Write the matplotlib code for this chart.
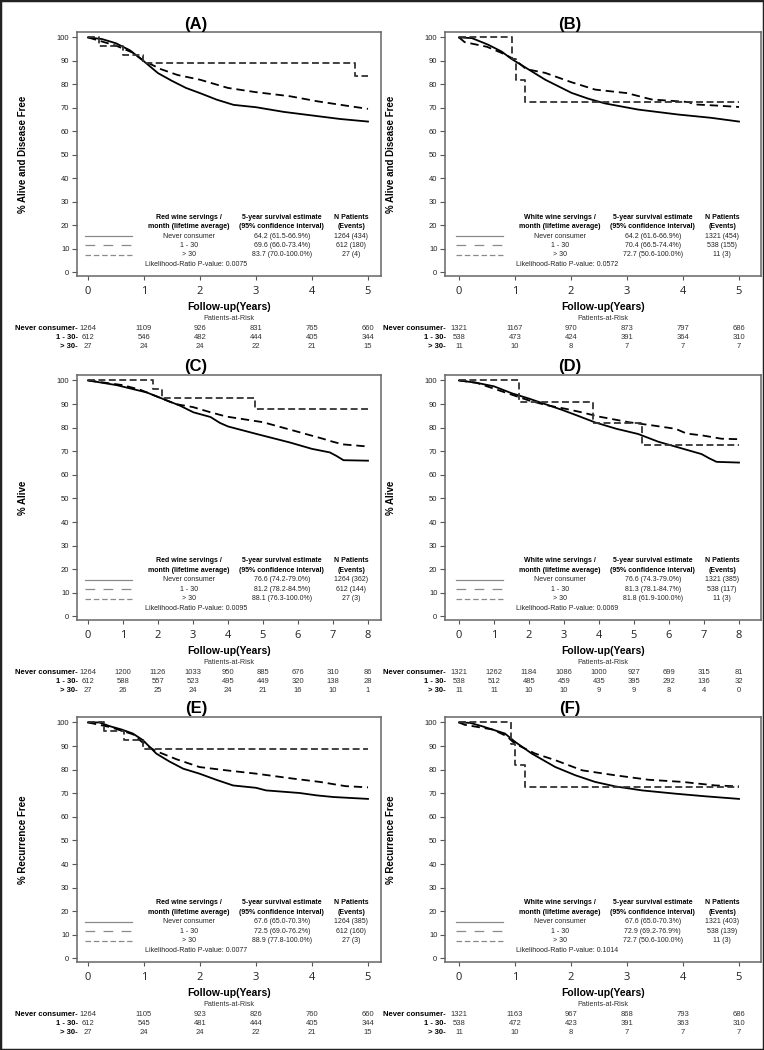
import matplotlib
matplotlib.use("Agg")
import matplotlib.pyplot as plt
import matplotlib.transforms as mtransforms
from matplotlib.patches import Rectangle

W, H = 764, 1050

plt.rcParams["font.family"] = ["Liberation Sans", "DejaVu Sans"]
plt.rcParams["lines.scale_dashes"] = False

# ---------------- data ----------------
titles = ["(A)", "(B)", "(C)", "(D)", "(E)", "(F)"]
ylabels = ["% Alive and Disease Free", "% Alive and Disease Free",
           "% Alive", "% Alive", "% Recurrence Free", "% Recurrence Free"]
wine_types = ["Red", "White", "Red", "White", "Red", "White"]
groups = ["Never consumer", "1 - 30", "> 30"]
risk_row_labels = ["Never consumer-", "1 - 30-", "> 30-"]
years_max = [5, 5, 8, 8, 5, 5]

estimates = [
    ["64.2 (61.5-66.9%)", "69.6 (66.0-73.4%)", "83.7 (70.0-100.0%)"],
    ["64.2 (61.6-66.9%)", "70.4 (66.5-74.4%)", "72.7 (50.6-100.0%)"],
    ["76.6 (74.2-79.0%)", "81.2 (78.2-84.5%)", "88.1 (76.3-100.0%)"],
    ["76.6 (74.3-79.0%)", "81.3 (78.1-84.7%)", "81.8 (61.9-100.0%)"],
    ["67.6 (65.0-70.3%)", "72.5 (69.0-76.2%)", "88.9 (77.8-100.0%)"],
    ["67.6 (65.0-70.3%)", "72.9 (69.2-76.9%)", "72.7 (50.6-100.0%)"],
]
n_events = [
    ["1264 (434)", "612 (180)", "27 (4)"],
    ["1321 (454)", "538 (155)", "11 (3)"],
    ["1264 (362)", "612 (144)", "27 (3)"],
    ["1321 (385)", "538 (117)", "11 (3)"],
    ["1264 (385)", "612 (160)", "27 (3)"],
    ["1321 (403)", "538 (139)", "11 (3)"],
]
p_values = ["0.0075", "0.0572", "0.0095", "0.0069", "0.0077", "0.1014"]

risk_a = [[1264, 1109, 926, 831, 765, 660], [612, 546, 482, 444, 405, 344], [27, 24, 24, 22, 21, 15]]
risk_b = [[1321, 1167, 970, 873, 797, 686], [538, 473, 424, 391, 364, 310], [11, 10, 8, 7, 7, 7]]
risk_c = [[1264, 1200, 1126, 1033, 950, 885, 676, 310, 86],
          [612, 588, 557, 523, 495, 449, 320, 138, 28],
          [27, 26, 25, 24, 24, 21, 16, 10, 1]]
risk_d = [[1321, 1262, 1184, 1086, 1000, 927, 699, 315, 81],
          [538, 512, 485, 459, 435, 395, 292, 136, 32],
          [11, 11, 10, 10, 9, 9, 8, 4, 0]]
risk_e = [[1264, 1105, 923, 826, 760, 660], [612, 545, 481, 444, 405, 344], [27, 24, 24, 22, 21, 15]]
risk_f = [[1321, 1163, 967, 868, 793, 686], [538, 472, 423, 391, 363, 310], [11, 10, 8, 7, 7, 7]]

# survival curves (years, % surviving)
a_never_t = [0, 0.25, 0.5, 0.75, 1.0, 1.25, 1.5, 1.75, 2.0, 2.3, 2.6, 3.0, 3.5, 4.0, 4.5, 5.0]
a_never_s = [100, 99.3, 97.5, 94.5, 89.8, 84.8, 81.5, 78.5, 76.3, 73.5, 71.3, 70.3, 68.3, 66.8, 65.3, 64.2]
a_mid_t = [0, 0.5, 0.8, 1.0, 1.3, 1.6, 2.0, 2.5, 3.0, 3.6, 4.1, 4.6, 5.0]
a_mid_s = [100, 96.5, 93.5, 90, 86.5, 84, 82, 78.5, 76.7, 75, 72.8, 71, 69.6]
a_high_t = [0, 0.2, 0.62, 0.98, 4.77, 5.0]
a_high_s = [100, 96.3, 92.6, 88.9, 83.7, 83.7]

b_never_t = [0, 0.23, 0.52, 0.76, 0.94, 1.2, 1.54, 2.01, 2.3, 2.61, 3.2, 3.91, 4.5, 5.0]
b_never_s = [100, 99.7, 96.9, 94, 90.8, 87, 82, 76.4, 74, 71.9, 69.3, 67.2, 65.8, 64.2]
b_mid_t = [0, 0.1, 0.5, 0.8, 1.0, 1.2, 1.54, 2.0, 2.43, 3.0, 3.44, 3.8, 4.1, 4.2, 4.6, 5.0]
b_mid_s = [100, 98, 96, 93, 90.5, 86.5, 84.9, 81, 77.8, 76.3, 73.6, 73, 72.5, 71.5, 71, 70.4]
b_high_t = [0, 0.94, 1.02, 1.18, 5.0]
b_high_s = [100, 90.9, 81.8, 72.7, 72.7]

c_never_t = [0, 0.82, 1.68, 2.0, 2.63, 3.01, 3.5, 3.77, 4.0, 4.82, 5.77, 6.4, 6.91, 7.1, 7.3, 8.0]
c_never_s = [100, 98, 94.9, 93, 89.3, 86.5, 84.5, 82, 80.5, 77.3, 73.7, 71, 69.5, 68, 66.2, 66]
c_mid_t = [0, 1.0, 1.5, 2.05, 2.5, 3.0, 3.5, 3.95, 5.0, 5.86, 6.71, 7.0, 7.29, 8.0]
c_mid_s = [100, 98, 96, 92.7, 90, 88.7, 86.5, 84.7, 82.3, 78.8, 75.3, 74, 72.9, 72]
c_high_t = [0, 1.87, 2.11, 4.78, 8.0]
c_high_s = [100, 96.3, 92.6, 88.1, 88.1]

d_never_t = [0, 0.5, 1.0, 1.5, 2.0, 2.93, 3.4, 3.89, 4.5, 5.12, 5.7, 6.27, 6.93, 7.15, 7.36, 8.0]
d_never_s = [100, 99, 97.5, 94.6, 92.3, 87.6, 85, 82.2, 79.5, 77.3, 74, 71.6, 68.8, 67, 65.5, 65.2]
d_mid_t = [0, 0.5, 1.0, 1.5, 2.0, 2.5, 3.04, 3.5, 3.99, 4.85, 5.5, 6.19, 6.5, 6.95, 7.5, 8.0]
d_mid_s = [100, 99, 96.5, 94, 91.5, 89.5, 88, 86.5, 84.7, 82.3, 81, 79.5, 77.5, 76.7, 75.3, 75.1]
d_high_t = [0, 1.72, 3.83, 5.23, 8.0]
d_high_s = [100, 90.9, 81.8, 72.7, 72.7]

e_never_t = [0, 0.2, 0.39, 0.6, 0.8, 0.98, 1.22, 1.45, 1.7, 1.99, 2.29, 2.59, 3.0, 3.18, 3.78, 4.08, 4.38, 5.0]
e_never_s = [100, 100, 98.4, 97, 95.3, 92.5, 86.8, 83.5, 80.4, 78.3, 75.7, 73.3, 72.3, 71.2, 70.1, 69.1, 68.4, 67.6]
e_mid_t = [0, 0.4, 0.8, 1.0, 1.2, 1.58, 1.99, 2.47, 3.0, 3.66, 4.14, 4.6, 5.0]
e_mid_s = [100, 98, 95, 91, 88, 84.4, 81.1, 79.7, 78.3, 76.2, 74.8, 73, 72.5]
e_high_t = [0, 0.28, 0.65, 0.98, 5.0]
e_high_s = [100, 96.3, 92.6, 88.9, 88.9]

f_never_t = [0, 0.2, 0.41, 0.82, 1.0, 1.3, 1.72, 2.08, 2.43, 2.79, 3.27, 3.87, 4.4, 5.0]
f_never_s = [100, 99.8, 98.4, 95.3, 91.8, 86.8, 81.1, 77.6, 74.8, 72.9, 71.2, 69.8, 68.7, 67.6]
f_mid_t = [0, 0.1, 0.6, 0.85, 1.0, 1.36, 1.72, 2.2, 2.79, 3.39, 3.99, 4.58, 5.0]
f_mid_s = [100, 99, 97, 94.2, 91, 86.8, 84, 79.7, 77.6, 75.7, 74.8, 73.3, 72.9]
f_high_t = [0, 0.93, 1.0, 1.17, 5.0]
f_high_s = [100, 90.9, 81.8, 72.7, 72.7]

curves = [
    [(a_never_t, a_never_s), (a_mid_t, a_mid_s), (a_high_t, a_high_s)],
    [(b_never_t, b_never_s), (b_mid_t, b_mid_s), (b_high_t, b_high_s)],
    [(c_never_t, c_never_s), (c_mid_t, c_mid_s), (c_high_t, c_high_s)],
    [(d_never_t, d_never_s), (d_mid_t, d_mid_s), (d_high_t, d_high_s)],
    [(e_never_t, e_never_s), (e_mid_t, e_mid_s), (e_high_t, e_high_s)],
    [(f_never_t, f_never_s), (f_mid_t, f_mid_s), (f_high_t, f_high_s)],
]
risks = [risk_a, risk_b, risk_c, risk_d, risk_e, risk_f]

# ---------------- layout (pixels) ----------------
row_tops = [32, 375, 717]
row_bottoms = [276, 620, 962]
col_lefts = [77, 445]
col_rights = [381, 761]
col_zero = [88, 459]
col_title_x = [196, 570]
PLOT_W = 280  # pixels between 0 and last tick

never_style = dict(color="black", lw=1.3)
mid_style = dict(color="black", lw=1.3, dashes=(6, 3.5))
high_style = dict(color="#333333", lw=1.3, dashes=(5, 2.5))
sample_styles = [
    dict(color="#8a8a8a", lw=0.9),
    dict(color="#8a8a8a", lw=0.9, dashes=(7, 6)),
    dict(color="#8a8a8a", lw=0.9, dashes=(4, 2)),
]


def fx(x):
    return x / W


def fy(y):
    return 1 - y / H


fig = plt.figure(figsize=(W / 100, H / 100), dpi=100)

for i in range(6):
    row, col = divmod(i, 2)
    left, right = col_lefts[col], col_rights[col]
    top, bottom = row_tops[row], row_bottoms[row]
    xmax = years_max[i]
    pxu = PLOT_W / xmax
    x0 = col_zero[col]

    ax = fig.add_axes([fx(left), fy(bottom), (right - left) / W, (bottom - top) / H])
    ax.set_xlim((left - x0) / pxu, (right - x0) / pxu)
    ax.set_ylim(-1.5, 102.3)

    (nt, ns), (mt, ms), (ht, hs) = curves[i]
    ax.plot(nt, ns, **never_style)
    ax.plot(mt, ms, **mid_style)
    ax.step(ht, hs, where="post", **high_style)

    ax.set_xticks(range(0, xmax + 1))
    ax.set_yticks(range(0, 101, 10))
    ax.tick_params(axis="x", labelsize=8, length=3, pad=4, colors="#555555",
                   labelcolor="#222222")
    ax.tick_params(axis="y", labelsize=5.5, length=3.5, pad=2, colors="#555555",
                   labelcolor="#222222")
    for lab in ax.get_xticklabels():
        lab.set_family("Open Sans")
    for sp in ax.spines.values():
        sp.set_color("#666666")
        sp.set_linewidth(1.1)

    # legend block inside the plot
    c1, c2, c3 = 0.36 * xmax, 0.692 * xmax, 0.94 * xmax
    hdr = dict(ha="center", va="center", fontsize=5, fontweight="bold")
    ax.text(c1, 23.5, f"{wine_types[i]} wine servings /", **hdr)
    ax.text(c1, 19.5, "month (lifetime average)", **hdr)
    ax.text(c2, 23.5, "5-year survival estimate", **hdr)
    ax.text(c2, 19.5, "(95% confidence interval)", **hdr)
    ax.text(c3, 23.5, "N Patients", **hdr)
    ax.text(c3, 19.5, "(Events)", **hdr)
    body = dict(ha="center", va="center", fontsize=5, color="#222222")
    for k, yy in enumerate([15.5, 11.5, 7.5]):
        ax.plot([-0.012 * xmax, 0.157 * xmax], [yy, yy], **sample_styles[k])
        ax.text(c1, yy, groups[k], **body)
        ax.text(c2, yy, estimates[i][k], **body)
        ax.text(c3, yy, n_events[i][k], **body)
    ax.text(0.204 * xmax, 3.3, f"Likelihood-Ratio P-value: {p_values[i]}",
            ha="left", va="center", fontsize=5, color="#222222")

    # titles and labels
    fig.text(fx(col_title_x[col]), fy(top - 8), titles[i], ha="center", va="center",
             fontsize=12, fontweight="bold")
    fig.text(fx(left - 54), fy((top + bottom) / 2), ylabels[i], rotation=90,
             ha="center", va="center", fontsize=7, fontweight="bold")
    mid_x = fx((left + right) / 2)
    fig.text(mid_x, fy(bottom + 31), "Follow-up(Years)", ha="center", va="center",
             fontsize=7.5, fontweight="bold")
    fig.text(mid_x, fy(bottom + 42), "Patients-at-Risk", ha="center", va="center",
             fontsize=5.2, color="#333333")

    # patients-at-risk table
    trans = mtransforms.blended_transform_factory(ax.transData, fig.transFigure)
    for k, yoff in enumerate([52, 61.5, 71]):
        fig.text(fx(left + 1), fy(bottom + yoff), risk_row_labels[k], ha="right",
                 va="center", fontsize=5.5, fontweight="bold")
        for yr, n in enumerate(risks[i][k]):
            ax.text(yr, fy(bottom + yoff), str(n), transform=trans, ha="center",
                    va="center", fontsize=5.5, color="#333333", clip_on=False)

fig.patches.append(Rectangle((0, 0), 1, 1, transform=fig.transFigure, fill=False,
                             lw=2.5, edgecolor="#222222"))

fig.savefig("out.png", dpi=100)
